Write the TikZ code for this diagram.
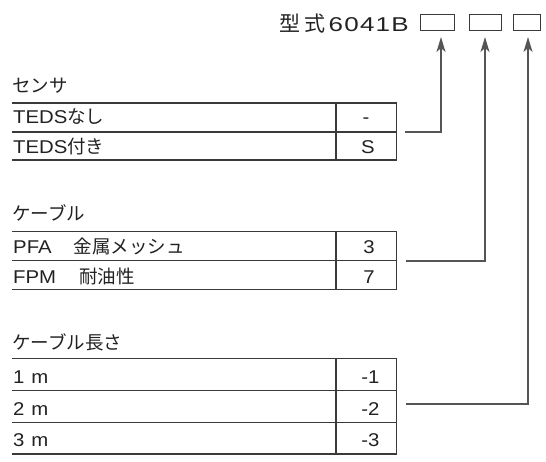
\documentclass[tikz,border=0pt]{standalone}
\usepackage{fontspec}
\setmainfont{Liberation Sans}[FakeStretch=1.1]
\newfontfamily\jp{Noto Sans CJK JP}
\newfontfamily\widelat{Liberation Sans}[FakeStretch=1.3]
\usetikzlibrary{arrows.meta}
\definecolor{ink}{HTML}{222222}
\definecolor{rulec}{HTML}{3A3A3A}
\definecolor{wirec}{HTML}{555555}
\begin{document}
\begin{tikzpicture}[x=1pt,y=-1pt,
  txt/.style={anchor=base west, inner sep=0pt, font=\fontsize{18.5}{21}\selectfont, text=ink},
  val/.style={anchor=base, inner sep=0pt, font=\fontsize{18.5}{21}\selectfont, text=ink},
  tline/.style={draw=rulec, line width=1.1pt},
  wire/.style={draw=wirec, line width=1.2pt},
  arr/.style={wire, -{Stealth[length=15pt,width=9pt,inset=4pt]}},
  codebox/.style={draw=rulec, line width=1pt, inner sep=0pt, minimum height=16pt}]
\useasboundingbox (0,0) rectangle (546,461);
% title and code boxes
\node[anchor=base west, inner sep=0pt, text=ink, font=\fontsize{20}{24}\selectfont] (title) at (279,31.7)
  {{\jp\fontsize{21}{24}\selectfont 型\hspace{4.5pt}式}\hspace{3pt}{\widelat 6\hspace{1.2pt}0\hspace{1.2pt}4\hspace{1.2pt}1\hspace{1.2pt}B}};
\node[codebox, minimum width=34pt] (b1) at (437,22) {};
\node[codebox, minimum width=32pt] (b2) at (485,22) {};
\node[codebox, minimum width=27pt] (b3) at (526.5,22) {};
\coordinate (t1) at (441,37);
\coordinate (t2) at (485,37);
\coordinate (t3) at (528,37);
% sensor table
\node[txt] (h1) at (12,92.5) {\jp センサ};
\draw[tline] (12,103) -- (396.5,103) (12,132) -- (396.5,132) (12,160) -- (396.5,160)
  (336,103) -- (336,160) (396.5,103) -- (396.5,160);
\node[txt] (r11) at (13,123.5) {TEDS{\jp なし}};
\node[txt] (r12) at (13,153.5) {TEDS{\jp 付き}};
\node[val] (v11) at (366,123.5) {-};
\node[val] (v12) at (368,153.5) {S};
% cable table
\node[txt] (h2) at (12,220.5) {\jp ケーブル};
\draw[tline] (12,231.7) -- (396.5,231.7) (12,260.7) -- (396.5,260.7) (12,289.5) -- (396.5,289.5)
  (336,231.7) -- (336,289.5) (396.5,231.7) -- (396.5,289.5);
\node[txt] (r21) at (13,253.5) {PFA\hspace{22pt}{\jp 金属メッシュ}};
\node[txt] (r22) at (13,283.5) {FPM\hspace{23pt}{\jp 耐油性}};
\node[val] (v21) at (369,253.5) {3};
\node[val] (v22) at (369,283.5) {7};
% cable length table
\node[txt] (h3) at (12,349) {\jp ケーブル長さ};
\draw[tline] (12,358.5) -- (396.5,358.5) (12,390.7) -- (396.5,390.7) (12,422.5) -- (396.5,422.5) (12,454) -- (396.5,454)
  (336,358.5) -- (336,454) (396.5,358.5) -- (396.5,454);
\node[txt] (r31) at (13,383.5) {1\hspace{7pt}m};
\node[txt] (r32) at (13,415) {2\hspace{7pt}m};
\node[txt] (r33) at (13,446.5) {3\hspace{7pt}m};
\node[val] (v31) at (370.5,383.5) {-1};
\node[val] (v32) at (370.5,415) {-2};
\node[val] (v33) at (370.5,446.5) {-3};
% connectors
\coordinate (s1) at (405,132);
\coordinate (s2) at (406,261);
\coordinate (s3) at (406,404);
\draw[arr] (s1) -| (t1);
\draw[arr] (s2) -| (t2);
\draw[arr] (s3) -| (t3);
\end{tikzpicture}
\end{document}
